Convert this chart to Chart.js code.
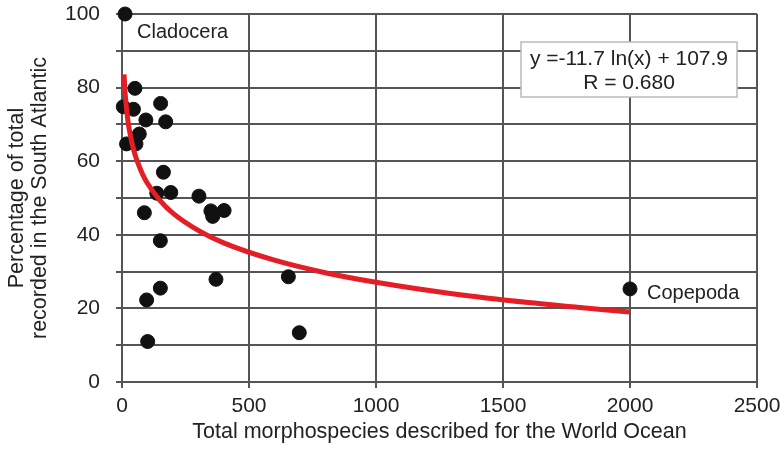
<!DOCTYPE html>
<html>
<head>
<meta charset="utf-8">
<script src="https://cdn.jsdelivr.net/npm/chart.js@4"></script>
<style>
  html, body { margin: 0; padding: 0; background: #fff; }
  #wrap { width: 780px; height: 450px; }
</style>
</head>
<body>
<div id="wrap"><canvas id="taxaChart" width="780" height="450"></canvas></div>
<script>
/* data */
var taxaX = [12, 51, 5, 45, 152, 94, 172, 68, 18, 55, 163, 137, 192, 303, 88, 350, 357, 402, 151, 370, 655, 151, 97, 698, 101, 2000];
var taxaY = [100, 79.8, 74.8, 74.1, 75.7, 71.2, 70.7, 67.4, 64.7, 64.7, 57, 51.3, 51.5, 50.5, 46, 46.5, 45, 46.6, 38.4, 27.9, 28.6, 25.5, 22.3, 13.4, 11, 25.3];

/* trend curve y = -11.7 ln(x) + 107.9 */
var trendX = [8, 10, 12, 15, 20, 25, 30, 40, 50, 60, 80, 100, 150, 200, 300, 400, 600, 800, 1000, 1300, 1600, 2000];
var trendY = [83.6, 81.0, 78.8, 76.2, 72.8, 70.2, 68.1, 64.7, 62.1, 60.0, 56.6, 54.0, 49.3, 45.9, 41.2, 37.8, 33.1, 29.7, 27.1, 24.0, 21.6, 19.0];

var xTicks = [0, 500, 1000, 1500, 2000, 2500];
var yTicks = [0, 20, 40, 60, 80, 100];
var equationLines = ['y =-11.7 ln(x) + 107.9', 'R = 0.680'];

var FONT = '"Liberation Sans", Arial, sans-serif';

function toPoints(xs, ys) {
    return xs.map((x, i) => ({ x: x, y: ys[i] }));
}

/* labels next to the two named taxa + the equation box */
const labelPlugin = {
    id: 'labelPlugin',
    afterDraw(chart) {
        const c = chart.ctx;
        const xs = chart.scales.x, ys = chart.scales.y;
        const area = chart.chartArea;
        c.save();
        c.font = '20px ' + FONT;
        c.fillStyle = '#222';
        c.textBaseline = 'middle';
        c.textAlign = 'left';
        // Cladocera (first point)
        c.fillText('Cladocera', xs.getPixelForValue(taxaX[0]) + 12, ys.getPixelForValue(taxaY[0]) + 18);
        // Copepoda (last point)
        const n = taxaX.length - 1;
        c.fillText('Copepoda', xs.getPixelForValue(taxaX[n]) + 17, ys.getPixelForValue(taxaY[n]) + 5);

        // equation box
        const bw = 216, bh = 55;
        const bx = area.right - 20 - bw, by = area.top + 28;
        c.fillStyle = '#fff';
        c.fillRect(bx, by, bw, bh);
        c.strokeStyle = '#bbb';
        c.lineWidth = 1.5;
        c.strokeRect(bx, by, bw, bh);
        c.fillStyle = '#222';
        c.textAlign = 'center';
        c.font = '21px ' + FONT;
        c.fillText(equationLines[0], bx + bw / 2, by + 17);
        c.fillText(equationLines[1], bx + bw / 2, by + 41);
        c.restore();
    }
};

const ctx = document.getElementById('taxaChart').getContext('2d');
const taxaChart = new Chart(ctx, {
    type: 'scatter',
    data: {
        datasets: [{
            type: 'line',
            label: 'trend',
            data: toPoints(trendX, trendY),
            borderColor: '#e31e26',
            borderWidth: 5,
            pointRadius: 0,
            cubicInterpolationMode: 'monotone',
            fill: false
        }, {
            label: 'taxa',
            data: toPoints(taxaX, taxaY),
            backgroundColor: '#111',
            borderColor: '#111',
            borderWidth: 1,
            pointRadius: 7,
            pointHoverRadius: 7,
            clip: false
        }]
    },
    options: {
        responsive: false,
        animation: false,
        layout: { padding: 0 },
        plugins: {
            legend: { display: false },
            tooltip: { enabled: false }
        },
        scales: {
            x: {
                type: 'linear',
                min: 0,
                max: 2500,
                afterBuildTicks: (s) => { s.ticks = xTicks.map(v => ({ value: v })); },
                afterFit: (s) => {
                    s.height = 68;
                    s.paddingLeft = 0;
                    s.paddingRight = 23; // plot ends at 757
                },
                grid: { color: '#555', lineWidth: 2, tickLength: 6 },
                border: { color: '#555', width: 2 },
                ticks: {
                    color: '#222',
                    font: { family: FONT, size: 21 },
                    padding: 6,
                    maxRotation: 0,
                    callback: (v) => String(v)
                },
                title: {
                    display: true,
                    text: 'Total morphospecies described for the World Ocean',
                    color: '#222',
                    font: { family: FONT, size: 21.5, lineHeight: 1.2 },
                    padding: { top: 2, bottom: 5 }
                }
            },
            y: {
                type: 'linear',
                min: 0,
                max: 100,
                afterFit: (s) => {
                    s.width = 122;
                    s.paddingTop = 14; // plot starts at 14
                    s.paddingBottom = 0;
                },
                grid: { color: '#555', lineWidth: 2, tickLength: 6 },
                border: { color: '#555', width: 2 },
                ticks: {
                    stepSize: 10,
                    color: '#222',
                    font: { family: FONT, size: 21 },
                    padding: 16,
                    callback: (v) => yTicks.includes(v) ? String(v) : ''
                },
                title: {
                    display: true,
                    text: ['Percentage of total', 'recorded in the South Atlantic'],
                    color: '#222',
                    font: { family: FONT, size: 21.5, lineHeight: 1.07 },
                    padding: { top: 5.5, bottom: 4 }
                }
            }
        }
    },
    plugins: [labelPlugin]
});
</script>
</body>
</html>
